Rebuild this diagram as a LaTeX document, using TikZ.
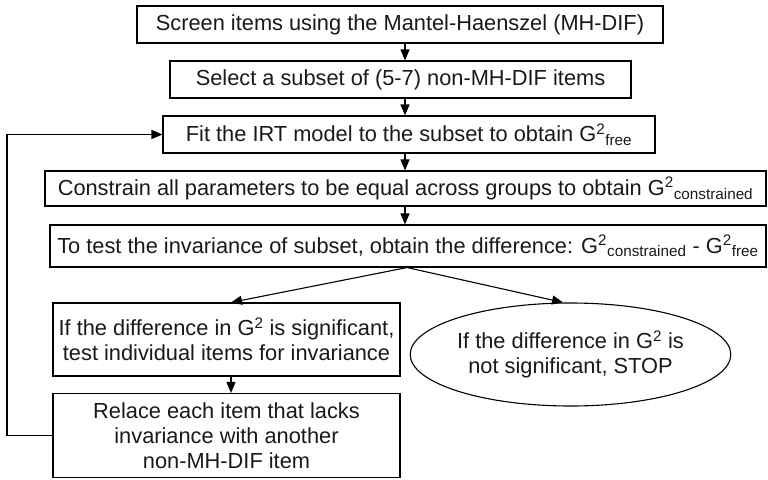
\documentclass[tikz,border=0pt]{standalone}
\usepackage{fontspec}
\setmainfont{Liberation Sans}
\usetikzlibrary{arrows.meta,shapes.geometric}
\newcommand{\Gsq}[1]{G\textsuperscript{2}\textsubscript{#1}}
\tikzset{
  flowbox/.style={draw, line width=1.1pt, rectangle, inner sep=0pt, align=center,
    font=\fontsize{21.8}{25}\selectfont, text=black!90},
  endoval/.style={draw, line width=1.1pt, ellipse, inner sep=0pt, align=center,
    font=\fontsize{21.8}{25}\selectfont, text=black!90},
  arr/.style={line width=1.1pt, -{Triangle[length=11pt,width=9pt]}},
  plain/.style={line width=1.1pt}
}
\begin{document}
\begin{tikzpicture}[x=1pt,y=-1pt]
\useasboundingbox (0,0) rectangle (768,479);

% main column of steps
\node[flowbox, minimum width=526pt, minimum height=37pt] (screen) at (400,24.5)
  {Screen items using the Mantel-Haenszel (MH-DIF)};
\node[flowbox, minimum width=461pt, minimum height=37pt] (select) at (400.5,79.5)
  {Select a subset of (5-7) non-MH-DIF items};
\node[flowbox, minimum width=492pt, minimum height=37pt] (fit) at (409,134.5)
  {Fit the IRT model to the subset to obtain \Gsq{free}};
\node[flowbox, minimum width=721pt, minimum height=35pt] (constrain) at (405.5,188.5)
  {Constrain all parameters to be equal across groups to obtain \Gsq{constrained}};
\node[flowbox, minimum width=716pt, minimum height=42pt] (test) at (408,246)
  {To test the invariance of subset, obtain the difference: \Gsq{constrained} - \Gsq{free}};

% branches
\node[flowbox, minimum width=347pt, minimum height=73pt] (signif) at (226.5,339.5)
  {If the difference in G\textsuperscript{2} is significant,\\test individual items for invariance};
\node[flowbox, minimum width=347pt, minimum height=84pt] (replace) at (226.5,435.5)
  {Relace each item that lacks\\invariance with another\\non-MH-DIF item};
\node[endoval, minimum width=303pt, minimum height=103pt] (stop) at (570.5,354.5)
  {If the difference in G\textsuperscript{2} is\\not significant, STOP};

% connector columns
\coordinate (ax) at (405,0);
\coordinate (bx) at (231,0);
\coordinate (cx) at (563,0);
\coordinate (sx) at (407,0);
\coordinate (fb) at (7,0);

\draw[arr] (screen.south -| ax) -- (select.north -| ax);
\draw[arr] (select.south -| ax) -- (fit.north -| ax);
\draw[arr] (fit.south -| ax) -- (constrain.north -| ax);
\draw[arr] (constrain.south -| ax) -- (test.north -| ax);
\draw[arr] (test.south -| sx) -- (signif.north -| bx);
\draw[arr] (test.south -| sx) -- (stop.north -| cx);
\draw[arr] (signif.south -| bx) -- (replace.north -| bx);

% feedback loop back to the fitting step
\draw[arr] (replace.west) -- (replace.west -| fb) -- (fit.west -| fb) -- (fit.west);
\end{tikzpicture}
\end{document}
